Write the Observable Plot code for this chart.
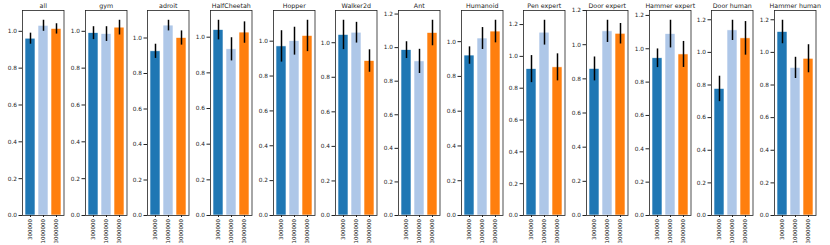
<!DOCTYPE html>
<html>
<head>
<meta charset="utf-8">
<script src="https://cdn.jsdelivr.net/npm/d3@7"></script>
<script src="https://cdn.jsdelivr.net/npm/@observablehq/plot@0.6"></script>
<style>
  html, body { margin: 0; padding: 0; background: white; }
  #chart { position: relative; width: 830px; height: 245px; overflow: hidden; }
  #chart svg { position: absolute; top: 0; }
  #chart svg text { font-family: "DejaVu Sans", sans-serif; }
</style>
</head>
<body>
<div id="chart"></div>
<script>
const panels = ["all","gym","adroit","HalfCheetah","Hopper","Walker2d","Ant","Humanoid","Pen expert","Door expert","Hammer expert","Door human","Hammer human"];
const steps = ["300000","1000000","3000000"];
const means300k = [0.960,0.990,0.925,1.040,0.970,1.045,0.985,0.920,0.920,0.858,0.943,0.776,1.125];
const errs300k  = [0.030,0.035,0.040,0.055,0.090,0.085,0.050,0.050,0.085,0.070,0.056,0.078,0.072];
const means1M   = [1.030,0.985,1.070,0.932,1.000,1.058,0.918,1.018,1.149,1.078,1.088,1.135,0.905];
const errs1M    = [0.030,0.040,0.030,0.065,0.080,0.060,0.072,0.063,0.078,0.065,0.083,0.062,0.065];
const means3M   = [1.013,1.020,1.000,1.026,1.030,0.894,1.087,1.058,0.931,1.064,0.966,1.086,0.961];
const errs3M    = [0.028,0.040,0.040,0.060,0.090,0.065,0.076,0.065,0.085,0.060,0.078,0.103,0.086];
const colors = ["#1f77b4","#aec7e8","#ff7f0e"];

const container = document.getElementById("chart");
const font = "DejaVu Sans, sans-serif";

panels.forEach((name, i) => {
  const data = [
    {step: steps[0], mean: means300k[i], err: errs300k[i]},
    {step: steps[1], mean: means1M[i],   err: errs1M[i]},
    {step: steps[2], mean: means3M[i],   err: errs3M[i]}
  ];
  const top = d3.max(data, d => d.mean + d.err);
  const ymax = top * 1.05;
  const ticks = d3.range(0, ymax + 1e-9, 0.2).map(v => +v.toFixed(1));
  const frameLeft = 22 + i * 62.67;
  const mL = 22, frameW = 41.5, mR = 22;
  const svg = Plot.plot({
    width: mL + frameW + mR,
    height: 245,
    marginLeft: mL,
    marginRight: mR,
    marginTop: 10,
    marginBottom: 30,
    style: {background: "transparent", overflow: "visible", fontFamily: font, color: "#222"},
    x: {type: "band", domain: steps, paddingInner: 0.2, paddingOuter: 0.14, axis: null},
    y: {domain: [0, ymax], axis: null},
    color: {domain: steps, range: colors},
    marks: [
      Plot.barY(data, {x: "step", y: "mean", fill: "step", stroke: "white", strokeWidth: 0.6}),
      Plot.ruleX(data, {x: "step", y1: d => d.mean - d.err, y2: d => d.mean + d.err, stroke: "black", strokeWidth: 1.5}),
      Plot.frame({stroke: "#222", strokeWidth: 0.8}),
      Plot.axisY({ticks, label: null, tickFormat: d3.format(".1f"), tickSize: 3.5, tickPadding: 2, fontSize: 5.8, stroke: "#222"}),
      Plot.axisX({label: null, tickRotate: -90, tickSize: 2, tickPadding: 1.5, fontSize: 5.5, stroke: "#222"}),
      Plot.text([name], {frameAnchor: "top", dy: -3, lineAnchor: "bottom", fontSize: 6.3, fill: "#222"})
    ]
  });
  svg.style.left = (frameLeft - mL) + "px";
  container.appendChild(svg);
});
</script>
</body>
</html>
